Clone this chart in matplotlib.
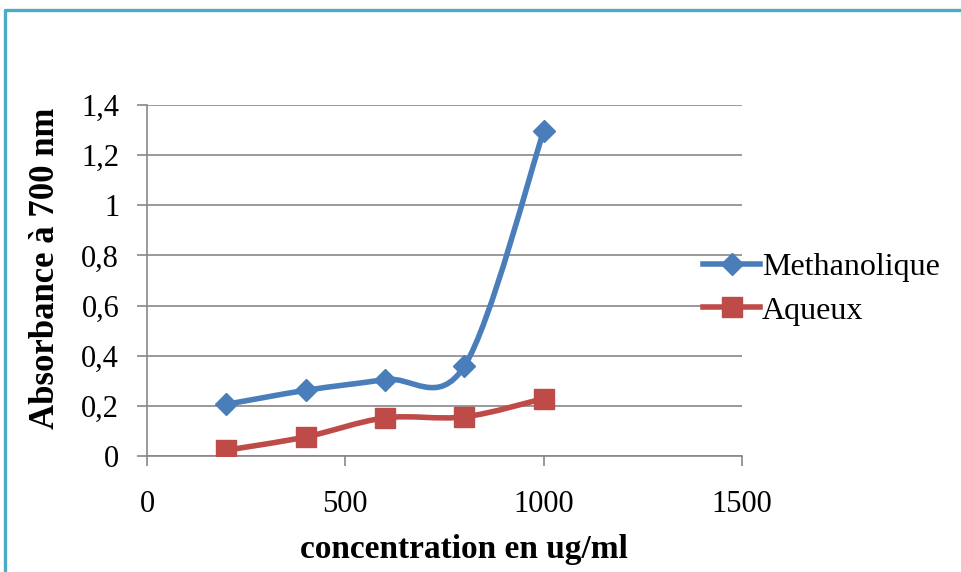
import numpy as np
import matplotlib
matplotlib.use("Agg")
import matplotlib.pyplot as plt
from matplotlib.path import Path
from matplotlib.patches import PathPatch
from matplotlib.lines import Line2D

# data
concentrations = [200, 400, 600, 800, 1000]
methanolique = [0.206, 0.262, 0.305, 0.358, 1.296]
aqueux = [0.023, 0.076, 0.152, 0.156, 0.229]

x_ticks = [0, 500, 1000, 1500]
y_ticks = [0, 0.2, 0.4, 0.6, 0.8, 1.0, 1.2, 1.4]
y_tick_labels = ["0", "0,2", "0,4", "0,6", "0,8", "1", "1,2", "1,4"]

BLUE = "#4A7EBB"
RED = "#BE4B48"
GRID = "#878787"
FRAME = "#4BACC6"

plt.rcParams["font.family"] = ["Liberation Serif", "DejaVu Serif"]


def smooth_path(xs, ys):
    """Excel-like smoothed line: Catmull-Rom segments as cubic Beziers."""
    pts = np.column_stack([xs, ys]).astype(float)
    padded = np.vstack([pts[0], pts, pts[-1]])
    verts = [pts[0]]
    codes = [Path.MOVETO]
    for i in range(len(pts) - 1):
        p0, p1, p2, p3 = padded[i], padded[i + 1], padded[i + 2], padded[i + 3]
        verts += [p1 + (p2 - p0) / 6, p2 - (p3 - p1) / 6, p2]
        codes += [Path.CURVE4] * 3
    return Path(verts, codes)


fig = plt.figure(figsize=(9.62, 5.72), dpi=100)
ax = fig.add_axes([147 / 962, 116 / 572, 595 / 962, 351 / 572])

series = [
    ("Methanolique", methanolique, BLUE, "D", 11.5),
    ("Aqueux", aqueux, RED, "s", 14.5),
]
handles = []
for name, vals, color, marker, msize in series:
    ax.add_patch(PathPatch(smooth_path(concentrations, vals), facecolor="none",
                           edgecolor=color, lw=4, capstyle="round", zorder=3))
    ax.plot(concentrations, vals, linestyle="none", marker=marker, markersize=msize,
            color=color, zorder=4)
    handles.append(Line2D([], [], color=color, lw=4, marker=marker,
                          markersize=msize, label=name))

ax.set_xlim(0, 1500)
ax.set_ylim(0, 1.4)
ax.set_xticks(x_ticks)
ax.set_yticks(y_ticks)
ax.set_yticklabels(y_tick_labels)
ax.grid(axis="y", color=GRID, lw=1.2)
ax.set_axisbelow(True)

for side in ["top", "right"]:
    ax.spines[side].set_visible(False)
for side in ["left", "bottom"]:
    ax.spines[side].set_color(GRID)
    ax.spines[side].set_linewidth(1.2)

ax.tick_params(axis="y", direction="out", length=7, width=1.2, color=GRID,
               labelsize=22, pad=13)
ax.tick_params(axis="x", direction="out", length=7, width=1.2, color=GRID,
               labelsize=22, pad=17.5)

ax.set_xlabel("concentration en ug/ml", fontsize=24, fontweight="bold", va="center")
ax.xaxis.set_label_coords(0.532, -0.265)
ax.set_ylabel("Absorbance à 700 nm", fontsize=25, fontweight="bold", va="center")
ax.yaxis.set_label_coords(-0.1714, 0.5356)

fig.legend(handles=handles, loc="center left", bbox_to_anchor=(703 / 962, 1 - 289 / 572),
           frameon=False, fontsize=23, handlelength=1.8, handletextpad=0.05,
           borderpad=0, borderaxespad=0, labelspacing=0.45)

# teal frame on the top and left edges
fig.add_artist(Line2D([5 / 962, 5 / 962, 1], [0, 1 - 9.5 / 572, 1 - 9.5 / 572],
                      transform=fig.transFigure, color=FRAME, lw=2.4))

fig.savefig("out.png", dpi=100)
